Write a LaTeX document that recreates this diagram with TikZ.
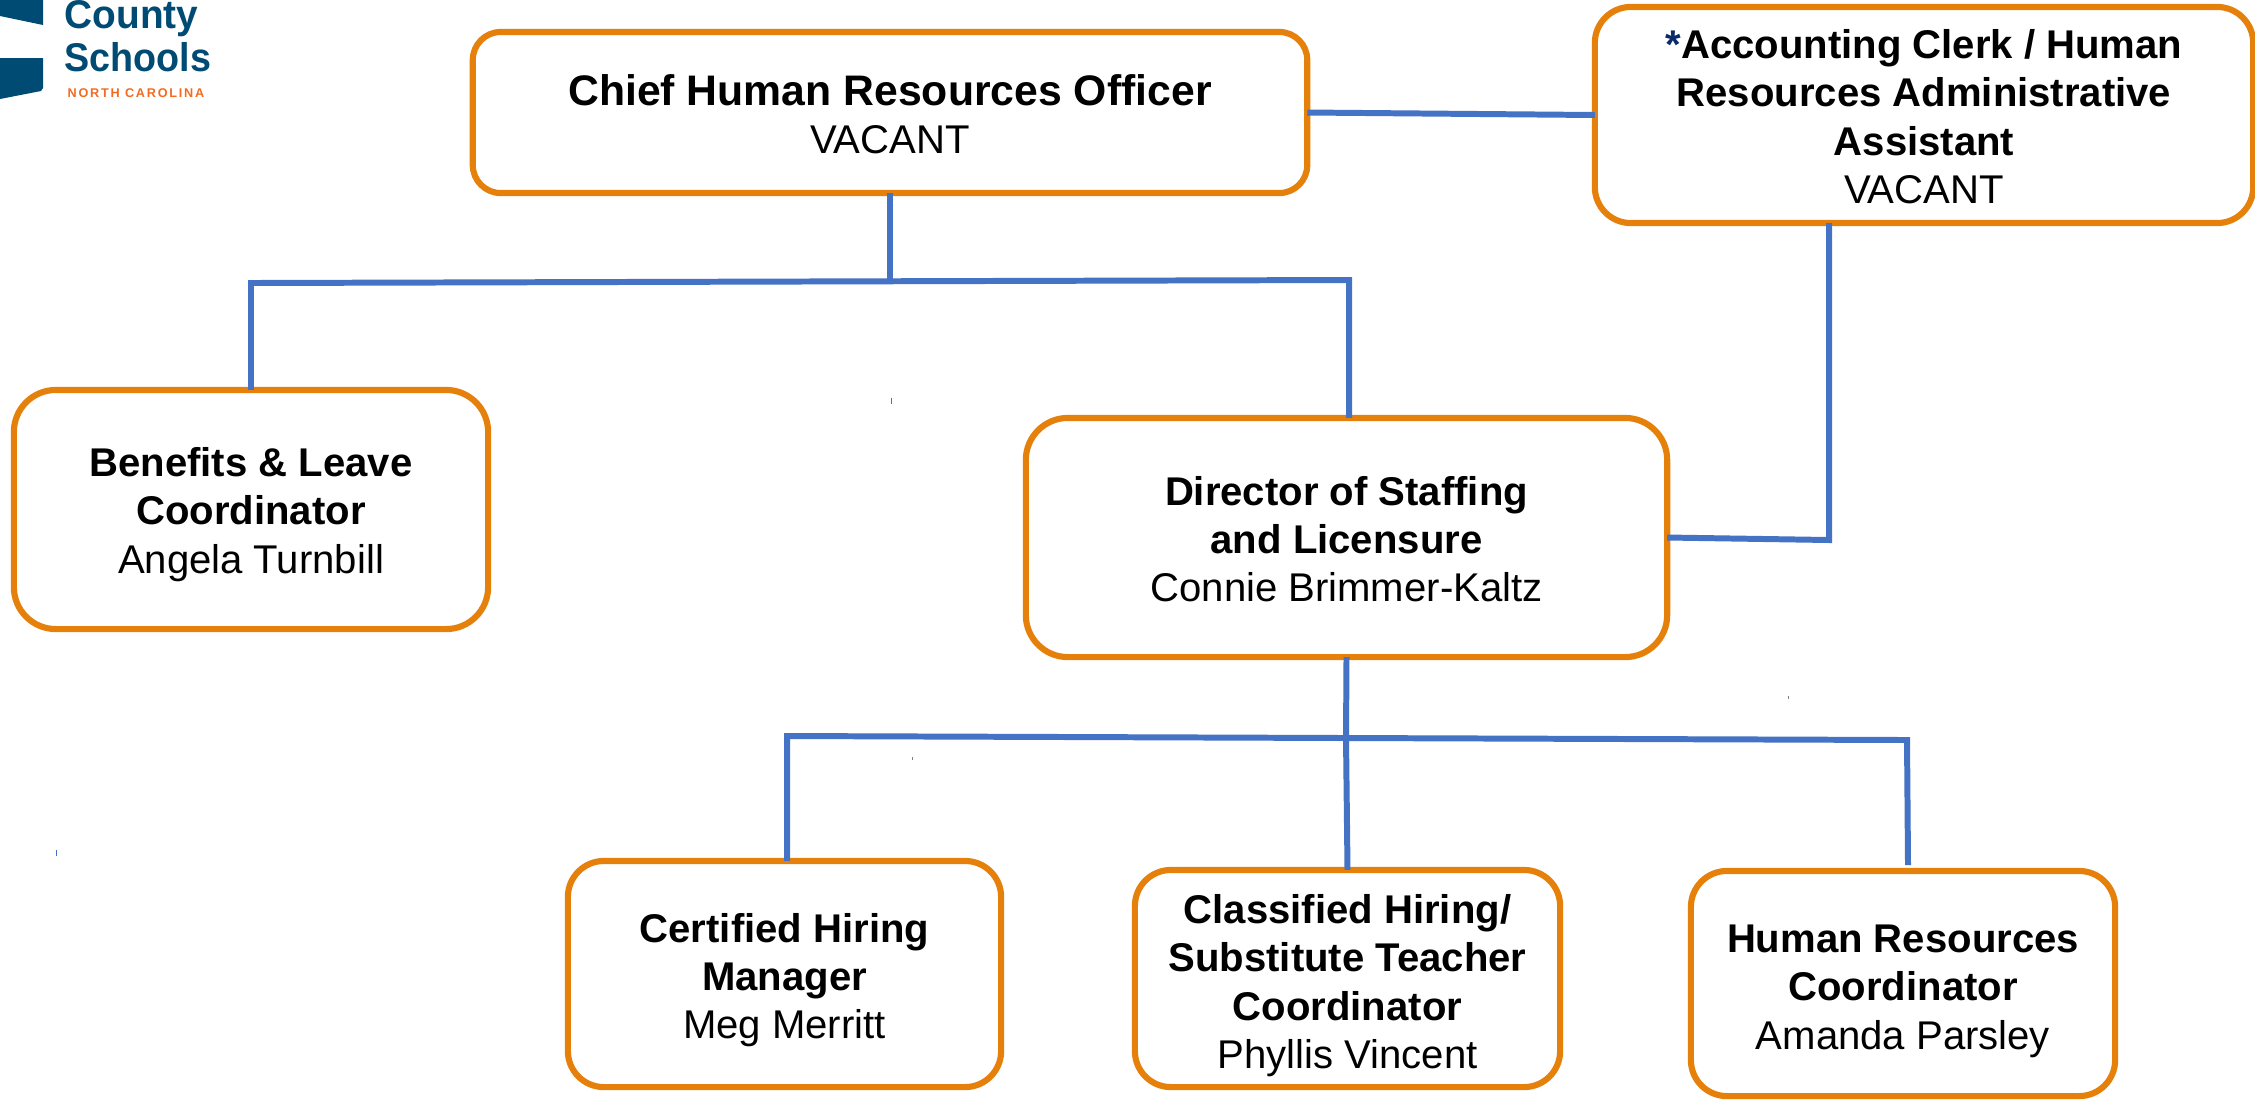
\documentclass[tikz,border=0pt]{standalone}
\usepackage{fontspec}
\setmainfont{Liberation Sans}
\newfontfamily\statefont[LetterSpace=14]{Liberation Sans}
\usepackage{tikz}
\usetikzlibrary{positioning,calc}
\definecolor{boxorange}{HTML}{E5800A}
\definecolor{linkblue}{HTML}{4472C4}
\definecolor{logoblue}{HTML}{004B73}
\definecolor{logoorange}{HTML}{F26B21}
\definecolor{starblue}{HTML}{0B2A6B}
\newcommand{\toppad}[1]{\rule{0pt}{#1}}
\tikzset{
  rolebox/.style={draw=boxorange,line width=1.75pt,fill=white,rounded corners=0.36cm,inner sep=0pt,outer sep=0pt,align=center,font=\fontsize{11.4}{13.7}\selectfont},
  link/.style={draw=linkblue,line width=1.7pt},
  speck/.style={draw=linkblue,line width=0.2pt},
  logotext/.style={anchor=base west,inner sep=0pt,text=logoblue,xscale=0.94,font=\fontsize{11.4}{12}\selectfont\bfseries}
}

\begin{document}
\begin{tikzpicture}[x=0.01cm,y=-0.01cm]
\useasboundingbox (0,0) rectangle (2255,1099);
\fill[logoblue] (0,0) -- (43,0) -- (43,25) -- (0,16) -- cycle;
\fill[logoblue] (0,58) -- (43,58) -- (43,88) -- (41,91) -- (0,99) -- cycle;
\node[logotext,xscale=1.03] (county) at (64,28) {County};
\node[logotext] (schools) at (64,71) {Schools};
\node[anchor=base west,inner sep=0pt,text=logoorange,font=\fontsize{3.6}{4}\statefont\bfseries] (state) at (67,97) {NORTH CAROLINA};
\node[rolebox,rounded corners=0.28cm,minimum width=8.34cm,minimum height=1.61cm] (chief) at (890,112.5) {\fontsize{12.15}{14.2}\selectfont\toppad{9.7pt}\textbf{Chief Human Resources Officer}\\\fontsize{11.4}{14.2}\selectfont VACANT};
\node[rolebox,minimum width=6.58cm,minimum height=2.16cm] (clerk) at (1924,115) {\toppad{9.2pt}\textbf{{\color{starblue}*}Accounting Clerk / Human}\\\textbf{Resources Administrative}\\\textbf{Assistant}\\VACANT};
\node[rolebox,rounded corners=0.42cm,minimum width=4.74cm,minimum height=2.39cm] (benefits) at (251,509.5) {\toppad{11.1pt}\textbf{Benefits \& Leave}\\\textbf{Coordinator}\\Angela Turnbill};
\node[rolebox,rounded corners=0.42cm,minimum width=6.41cm,minimum height=2.39cm] (director) at (1346.5,537.5) {\toppad{9.2pt}\textbf{Director of Staffing}\\\textbf{and Licensure}\\Connie Brimmer-Kaltz};
\node[rolebox,minimum width=4.33cm,minimum height=2.26cm] (certified) at (784.5,974) {\toppad{11.7pt}\textbf{Certified Hiring}\\\textbf{Manager}\\Meg Merritt};
\node[rolebox,minimum width=4.25cm,minimum height=2.17cm] (classified) at (1347.5,978.5) {\toppad{12.3pt}\textbf{Classified Hiring/}\\\textbf{Substitute Teacher}\\\textbf{Coordinator}\\Phyllis Vincent};
\node[rolebox,minimum width=4.24cm,minimum height=2.25cm] (hrcoord) at (1903,983.5) {\toppad{12.3pt}\textbf{Human Resources}\\\textbf{Coordinator}\\Amanda Parsley};
\coordinate (topleft) at (251,283);
\coordinate (topmid) at (890,281);
\coordinate (topright) at (1349,280);
\coordinate (clerkturn) at (1829,540);
\coordinate (lowleft) at (787,736);
\coordinate (lowmid) at (1346,738);
\coordinate (lowright) at (1907,740);
\coordinate (hrend) at (1908,865);
\draw[link] (chief.east) -- (clerk.west);
\draw[link] (chief.south) -- (topmid);
\draw[link] (benefits.north) -- (topleft) -- (topright) -- (director.north -| topright);
\draw[link] (clerk.south -| clerkturn) -- (clerkturn) -- (director.east);
\draw[link] (director.south) -- (lowmid) -- (classified.north);
\draw[link] (certified.north -| lowleft) -- (lowleft) -- (lowright) -- (hrend);
\foreach \x/\y in {891/398,56/850} {
  \draw[speck] (\x,\y) -- (\x,\y+6);
}
\foreach \x/\y in {912/757,1788/696} {
  \draw[speck,draw=gray] (\x,\y) -- (\x,\y+3);
}
\end{tikzpicture}
\end{document}
